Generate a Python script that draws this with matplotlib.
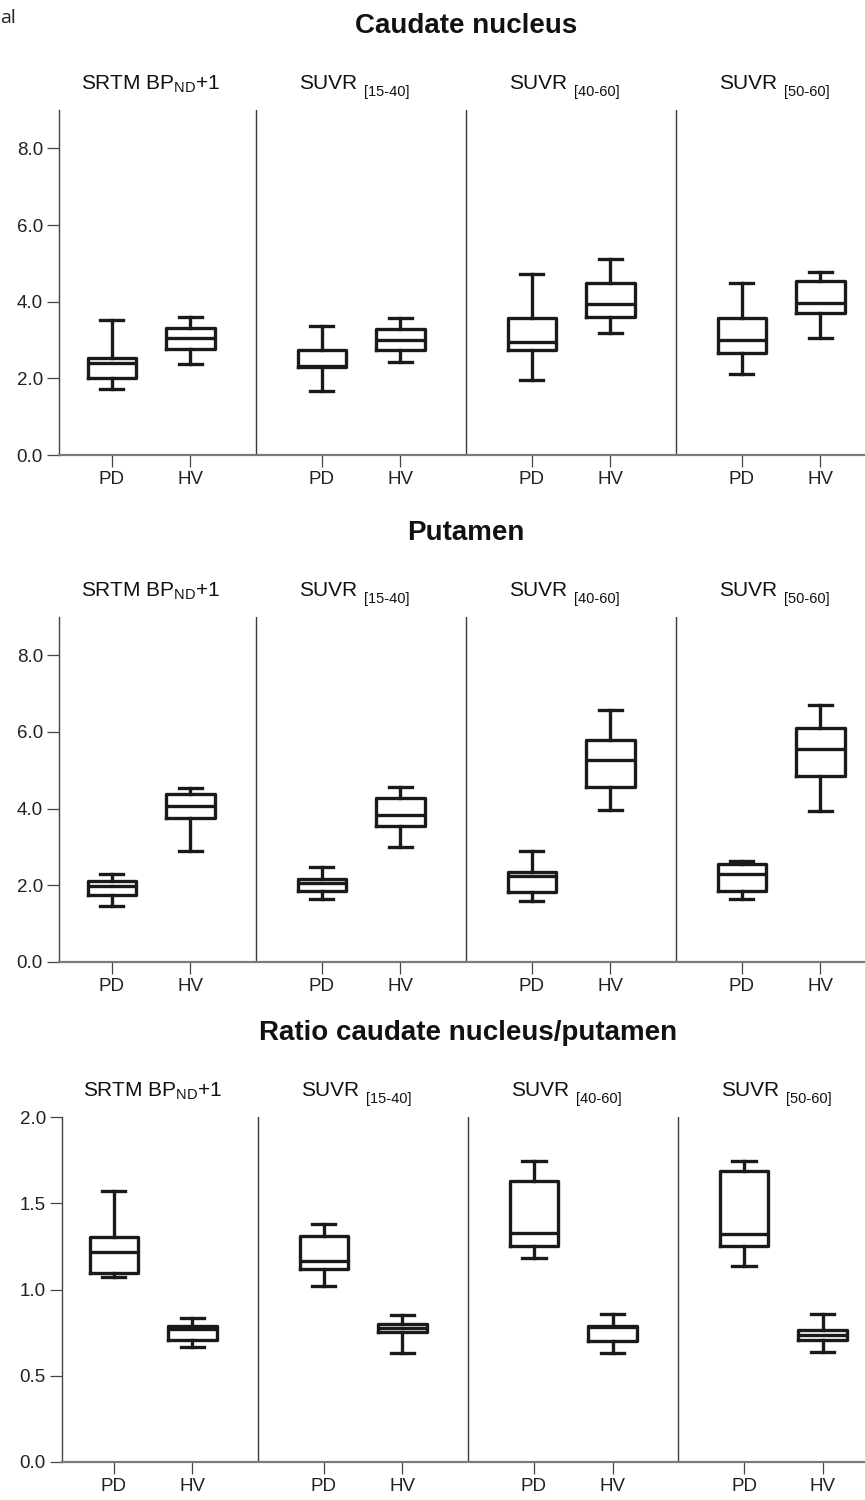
import numpy as np
import matplotlib
matplotlib.use("Agg")
import matplotlib.pyplot as plt
from matplotlib.ticker import FormatStrFormatter
from matplotlib.transforms import blended_transform_factory

plt.rcParams["font.family"] = ["Liberation Sans", "DejaVu Sans"]
plt.rcParams["mathtext.fontset"] = "custom"
plt.rcParams["mathtext.rm"] = "Liberation Sans"
plt.rcParams["mathtext.it"] = "Liberation Sans:italic"

# Groups and methods
groups = ["PD", "HV"]
methods = ["SRTM", "SUVR [15-40]", "SUVR [40-60]", "SUVR [50-60]"]
suvr_ranges = ["[15-40]", "[40-60]", "[50-60]"]

# box stats, order: (method1 PD, method1 HV, method2 PD, ...)
caudate_lo = [1.72, 2.37, 1.67, 2.43, 1.96, 3.19, 2.11, 3.05]
caudate_q1 = [2.00, 2.76, 2.30, 2.74, 2.74, 3.60, 2.66, 3.70]
caudate_med = [2.39, 3.05, 2.33, 3.00, 2.95, 3.93, 3.00, 3.97]
caudate_q3 = [2.53, 3.31, 2.74, 3.30, 3.57, 4.49, 3.57, 4.54]
caudate_hi = [3.52, 3.60, 3.37, 3.57, 4.72, 5.11, 4.49, 4.78]

putamen_lo = [1.46, 2.90, 1.64, 3.00, 1.59, 3.97, 1.64, 3.94]
putamen_q1 = [1.75, 3.76, 1.85, 3.55, 1.83, 4.57, 1.85, 4.86]
putamen_med = [1.98, 4.07, 2.06, 3.84, 2.25, 5.27, 2.30, 5.56]
putamen_q3 = [2.11, 4.39, 2.17, 4.28, 2.35, 5.80, 2.56, 6.11]
putamen_hi = [2.30, 4.54, 2.48, 4.57, 2.90, 6.58, 2.64, 6.71]

ratio_lo = [1.071, 0.668, 1.022, 0.634, 1.181, 0.634, 1.138, 0.639]
ratio_q1 = [1.094, 0.707, 1.121, 0.752, 1.252, 0.703, 1.252, 0.708]
ratio_med = [1.219, 0.769, 1.167, 0.775, 1.329, 0.780, 1.320, 0.738]
ratio_q3 = [1.302, 0.790, 1.312, 0.800, 1.629, 0.790, 1.687, 0.765]
ratio_hi = [1.571, 0.833, 1.378, 0.852, 1.745, 0.858, 1.747, 0.858]

titles = ["Caudate nucleus", "Putamen", "Ratio caudate nucleus/putamen"]
yticks_big = [0.0, 2.0, 4.0, 6.0, 8.0]
yticks_ratio = [0.0, 0.5, 1.0, 1.5, 2.0]

rows = [
    (caudate_lo, caudate_q1, caudate_med, caudate_q3, caudate_hi, 9.0, yticks_big),
    (putamen_lo, putamen_q1, putamen_med, putamen_q3, putamen_hi, 9.0, yticks_big),
    (ratio_lo, ratio_q1, ratio_med, ratio_q3, ratio_hi, 2.0, yticks_ratio),
]

# axes rects in figure fraction (left, bottom, width, height)
W, H = 865, 1500
rects = [
    (59 / W, 1 - 455 / H, 806 / W, 345 / H),
    (59 / W, 1 - 962 / H, 806 / W, 345 / H),
    (62 / W, 1 - 1462 / H, 803 / W, 345 / H),
]
xlims = [(0.062, 3.9), (0.062, 3.9), (0.067, 3.89)]

fig = plt.figure(figsize=(8.65, 15), dpi=100)
fig.text(0.0, 1 - 23 / H, "al", fontsize=14, va="baseline", ha="left",
         family=["Open Sans", "DejaVu Sans"], color="#222222")

black = "#1a1a1a"
offs = [0.314, 0.688]

for r, (lo, q1, med, q3, hi, ymax, yt) in enumerate(rows):
    ax = fig.add_axes(rects[r])
    pos = [i + offs[j] for i in range(4) for j in range(2)]
    stats = []
    for k in range(8):
        stats.append(dict(whislo=lo[k], q1=q1[k], med=med[k], q3=q3[k], whishi=hi[k], fliers=[]))
    ax.bxp(stats, positions=pos, widths=0.23, capwidths=0.11, showfliers=False,
           boxprops=dict(color=black, lw=2.4),
           medianprops=dict(color=black, lw=2.4),
           whiskerprops=dict(color=black, lw=2.4),
           capprops=dict(color=black, lw=2.4),
           manage_ticks=False)
    ax.set_xlim(*xlims[r])
    ax.set_ylim(0, ymax)
    for d in [1, 2, 3]:
        ax.axvline(d, color="#3a3a3a", lw=1.0)
    ax.set_xticks(pos)
    ax.set_xticklabels(groups * 4)
    ax.set_yticks(yt)
    ax.yaxis.set_major_formatter(FormatStrFormatter("%.1f"))
    for s in ["top", "right"]:
        ax.spines[s].set_visible(False)
    ax.spines["left"].set_color("#444444")
    ax.spines["left"].set_linewidth(1.0)
    ax.spines["bottom"].set_color("#7a7a7a")
    ax.spines["bottom"].set_linewidth(1.6)
    ax.tick_params(axis="both", length=8.6, width=0.9, color="#444444",
                   labelsize=13.5, labelcolor="#222222", pad=3)

    tr = blended_transform_factory(ax.transData, ax.transAxes)
    ax.text(2.0, 1.222, titles[r], transform=tr, ha="center", va="baseline",
            fontsize=20, fontweight="bold", color="#111111")
    # method subtitles
    ax.text(0.5, 1.06, r"SRTM BP$_{\mathrm{ND}}$+1", transform=tr, ha="center",
            va="baseline", fontsize=15, color="#111111")
    for i, rng in enumerate(suvr_ranges):
        t = ax.text(i + 1 + 0.48, 1.06, "SUVR", transform=tr, ha="right",
                    va="baseline", fontsize=15, color="#111111")
        ax.annotate(rng, xy=(1, 0), xycoords=t, xytext=(5, -4),
                    textcoords="offset points", ha="left", va="bottom",
                    fontsize=10.5, color="#111111")

fig.savefig("out.png", dpi=100)
